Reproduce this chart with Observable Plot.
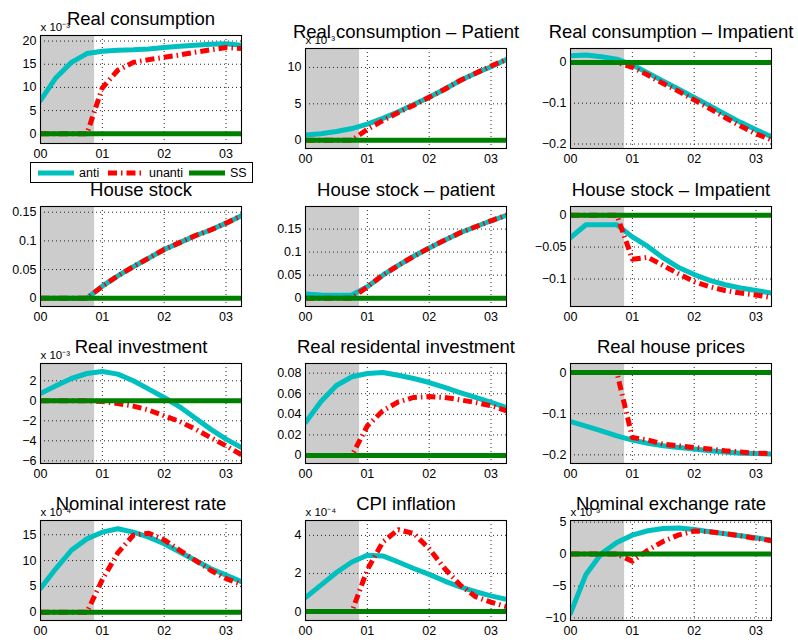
<!DOCTYPE html>
<html>
<head>
<meta charset="utf-8">
<script src="https://cdn.jsdelivr.net/npm/d3@7"></script>
<script src="https://cdn.jsdelivr.net/npm/@observablehq/plot@0.6"></script>
<style>
  body { margin: 0; background: #fff; font-family: "Liberation Sans", Arial, Helvetica, sans-serif; }
  #chart { position: relative; width: 798px; height: 642px; overflow: hidden; background: #fff; }
  #chart svg { position: absolute; overflow: visible; background: transparent; }
  #legend { position: absolute; left: 30px; top: 162px; width: 221px; height: 19px; border: 1px solid #000;
            background: #fff; font-size: 12.5px; z-index: 5; }
  #legend .item { position: absolute; top: 0; height: 19px; display: flex; align-items: center; gap: 4px; }
  #legend svg { position: static; }
</style>
</head>
<body>
<div id="chart"><div id="legend"></div></div>
<script>
// Quarterly horizon (years after the start), ticks on the year boundaries
const quarters = [0, 0.25, 0.5, 0.75, 1, 1.25, 1.5, 1.75, 2, 2.25, 2.5, 2.75, 3, 3.25];
const yearTicks = [0, 1, 2, 3];
const yearLabels = ["00", "01", "02", "03"];
const anticipationEnd = 0.875; // shaded news period

const seriesNames = ["anti", "unanti", "SS"];
const steadyState = [0, 0, 0, 0, 0, 0, 0, 0, 0, 0, 0, 0, 0, 0];

// Impulse responses: anticipated (anti) and unanticipated (unanti) shock
const consAnti      = [7.2, 12.1, 15.4, 17.3, 17.8, 18.0, 18.1, 18.3, 18.6, 18.9, 19.1, 19.3, 19.4, 19.1];
const consUnanti    = [0, 0, 0, 0, 9.9, 13.7, 15.4, 16.0, 16.5, 17.0, 17.6, 18.1, 18.6, 18.4];
const consPatAnti   = [0.7, 0.9, 1.2, 1.6, 2.2, 3.0, 3.9, 4.9, 5.9, 7.0, 8.2, 9.2, 10.1, 11.1];
const consPatUnanti = [0, 0, 0, 0, 1.5, 2.7, 3.8, 4.8, 5.9, 7.0, 8.2, 9.2, 10.2, 11.1];
const consImpAnti   = [0.016, 0.018, 0.014, 0.008, -0.006, -0.026, -0.046, -0.066, -0.086, -0.106, -0.127, -0.147, -0.165, -0.182];
const consImpUnanti = [0, 0, 0, 0, -0.012, -0.031, -0.052, -0.071, -0.092, -0.113, -0.135, -0.156, -0.175, -0.19];
const houseAnti     = [0, 0, 0, 0, 0.021, 0.039, 0.055, 0.070, 0.085, 0.097, 0.109, 0.119, 0.131, 0.144];
const houseUnanti   = [0, 0, 0, 0, 0.021, 0.039, 0.055, 0.070, 0.085, 0.097, 0.109, 0.119, 0.131, 0.144];
const housePatAnti  = [0.009, 0.007, 0.0065, 0.007, 0.025, 0.05, 0.071, 0.091, 0.109, 0.126, 0.142, 0.155, 0.168, 0.180];
const housePatUnanti= [0, 0, 0, 0, 0.025, 0.05, 0.071, 0.091, 0.109, 0.126, 0.142, 0.155, 0.168, 0.180];
const houseImpAnti  = [-0.035, -0.015, -0.015, -0.015, -0.034, -0.049, -0.067, -0.082, -0.093, -0.102, -0.109, -0.114, -0.118, -0.122];
const houseImpUnanti= [0, 0, 0, 0, -0.069, -0.066, -0.079, -0.092, -0.104, -0.112, -0.118, -0.122, -0.125, -0.129];
const invAnti       = [0.73, 1.5, 2.23, 2.73, 2.93, 2.67, 2.0, 1.17, 0.33, -0.6, -1.73, -2.83, -3.83, -4.67];
const invUnanti     = [0, 0, 0, 0, -0.07, -0.27, -0.53, -0.93, -1.5, -2.07, -2.83, -3.67, -4.5, -5.4];
const resInvAnti    = [0.032, 0.0525, 0.068, 0.0765, 0.0797, 0.0806, 0.078, 0.0748, 0.0709, 0.0661, 0.0612, 0.0564, 0.0515, 0.0466];
const resInvUnanti  = [0, 0, 0, 0, 0.0288, 0.0434, 0.0521, 0.0564, 0.0573, 0.0564, 0.0541, 0.0515, 0.0483, 0.0434];
const priceAnti     = [-0.119, -0.13, -0.142, -0.154, -0.164, -0.172, -0.178, -0.182, -0.186, -0.19, -0.193, -0.196, -0.197, -0.198];
const priceUnanti   = [0, 0, 0, 0, -0.158, -0.164, -0.174, -0.178, -0.182, -0.186, -0.19, -0.193, -0.196, -0.197];
const rateAnti      = [4.6, 8.46, 12.0, 14.2, 15.5, 16.15, 15.5, 14.55, 13.27, 11.67, 10.06, 8.46, 7.18, 5.9];
const rateUnanti    = [0, 0, 0, 0, 6.3, 11.5, 14.9, 15.3, 14.0, 12.0, 10.06, 8.14, 6.5, 5.4];
const cpiAnti       = [0.73, 1.39, 2.05, 2.6, 2.96, 2.92, 2.6, 2.26, 1.95, 1.6, 1.3, 1.04, 0.82, 0.64];
const cpiUnanti     = [0, 0, 0, 0, 2.2, 3.65, 4.3, 4.1, 3.3, 2.26, 1.39, 0.78, 0.49, 0.26];
const fxAnti        = [-9.27, -3.18, 0.1, 1.82, 2.97, 3.65, 4.0, 4.1, 3.85, 3.5, 3.2, 2.86, 2.55, 2.2];
const fxUnanti      = [0, 0, 0, 0, -1.1, 0.6, 2.0, 3.0, 3.6, 3.5, 3.2, 2.86, 2.45, 2.1];

const titles = [
  "Real consumption", "Real consumption – Patient", "Real consumption – Impatient",
  "House stock", "House stock – patient", "House stock – Impatient",
  "Real investment", "Real residental investment", "Real house prices",
  "Nominal interest rate", "CPI inflation", "Nominal exchange rate"
];
const exponents = ["⁻³", "⁻³", null, null, null, null, "⁻³", null, null, "⁻⁴", "⁻⁴", "⁻³"];
const yTicks = [
  [0, 5, 10, 15, 20], [0, 5, 10], [-0.2, -0.1, 0],
  [0, 0.05, 0.1, 0.15], [0, 0.05, 0.1, 0.15], [-0.1, -0.05, 0],
  [-6, -4, -2, 0, 2], [0, 0.02, 0.04, 0.06, 0.08], [-0.2, -0.1, 0],
  [0, 5, 10, 15], [0, 2, 4], [-10, -5, 0, 5]
];
const yLimits = [
  [-2.1, 21.2], [-1.14, 12.6], [-0.211, 0.034],
  [-0.0144, 0.16], [-0.018, 0.199], [-0.143, 0.0135],
  [-6.27, 3.73], [-0.0078, 0.0894], [-0.221, 0.022],
  [-1.6, 17.76], [-0.47, 4.78], [-10.4, 5.26]
];
const antiSeries = [consAnti, consPatAnti, consImpAnti, houseAnti, housePatAnti, houseImpAnti,
                    invAnti, resInvAnti, priceAnti, rateAnti, cpiAnti, fxAnti];
const unantiSeries = [consUnanti, consPatUnanti, consImpUnanti, houseUnanti, housePatUnanti, houseImpUnanti,
                      invUnanti, resInvUnanti, priceUnanti, rateUnanti, cpiUnanti, fxUnanti];

// Styling
const colors = {anti: "#00bfbf", unanti: "#ff0000", SS: "#008000"};
const widths = {anti: 5, unanti: 5, SS: 5};
const dashes = {anti: null, unanti: "9,4,1.5,4", SS: null};
const gridStyle = {stroke: "#000", strokeOpacity: 0.85, strokeDasharray: "1,3"};
// shortest decimal form with a true minus sign, e.g. 0.05, −0.1, 0
const tickText = d => String(+d.toPrecision(6)).replace("-", "\u2212");

// Layout of the 4 x 3 panel grid (frame positions in page pixels)
const colLeft = [40, 305, 570];
const rowTop = [48, 206, 363, 520];
const frameW = 201, frameH = 100;
const M = {l: 40, r: 12, t: 40, b: 24};

const chartEl = document.getElementById("chart");

titles.forEach((title, i) => {
  const col = i % 3, row = Math.floor(i / 3);
  // the first panel is taller to make room for the shared legend
  const top = i === 0 ? 35 : rowTop[row];
  const h = i === 0 ? 108 : frameH;
  const data = quarters.map((q, k) => ({
    q, anti: antiSeries[i][k], unanti: unantiSeries[i][k], SS: steadyState[k]
  }));
  const lineFor = (name) => Plot.line(data, {
    x: "q", y: name, stroke: colors[name], strokeWidth: widths[name],
    strokeDasharray: dashes[name], strokeLinecap: name === "unanti" ? "butt" : "round",
    strokeLinejoin: "round", clip: true
  });
  const marks = [
    Plot.rect([{x1: 0, x2: anticipationEnd}], {x1: "x1", x2: "x2", fill: "#cccccc"}),
    Plot.ruleX(yearTicks.slice(1), gridStyle),
    Plot.ruleY(yTicks[i], gridStyle),
    lineFor("anti"),
    lineFor("unanti"),
    lineFor("SS"),
    Plot.frame({stroke: "#000", strokeWidth: 1.1}),
    Plot.axisX(yearTicks, {tickSize: 0, tickPadding: 6, fontSize: 12.5, label: null,
                           tickFormat: d => yearLabels[yearTicks.indexOf(d)]}),
    Plot.axisY(yTicks[i], {tickSize: 0, tickPadding: 4, fontSize: 12.5, label: null,
                           tickFormat: tickText})
  ];
  if (exponents[i]) {
    marks.push(Plot.text(["x 10" + exponents[i]], {
      text: d => d, frameAnchor: "top-left", textAnchor: "start", lineAnchor: "bottom",
      dy: -5, fontSize: 11.5, fill: "#000"
    }));
  }
  marks.push(Plot.text([title], {
    text: d => d, frameAnchor: "top", lineAnchor: "bottom", dy: -11, fontSize: 18.5, fill: "#000"
  }));

  const svg = Plot.plot({
    width: frameW + M.l + M.r,
    height: h + M.t + M.b,
    marginLeft: M.l, marginRight: M.r, marginTop: M.t, marginBottom: M.b,
    x: {domain: [0, 3.25]},
    y: {domain: yLimits[i]},
    style: {fontFamily: "'Liberation Sans', Arial, Helvetica, sans-serif", fontSize: "12.5px",
            color: "#000", background: "transparent", overflow: "visible"},
    marks
  });
  svg.style.left = (colLeft[col] - M.l) + "px";
  svg.style.top = (top - M.t) + "px";
  chartEl.appendChild(svg);
});

// Shared legend
const legend = document.getElementById("legend");
const itemLeft = [6, 76, 157];
seriesNames.forEach((name, i) => {
  const item = document.createElement("div");
  item.className = "item";
  item.style.left = itemLeft[i] + "px";
  const ns = "http://www.w3.org/2000/svg";
  const sw = document.createElementNS(ns, "svg");
  sw.setAttribute("width", 38);
  sw.setAttribute("height", 10);
  const ln = document.createElementNS(ns, "line");
  ln.setAttribute("x1", 1); ln.setAttribute("x2", 37);
  ln.setAttribute("y1", 5); ln.setAttribute("y2", 5);
  ln.setAttribute("stroke", colors[name]);
  ln.setAttribute("stroke-width", widths[name]);
  if (dashes[name]) ln.setAttribute("stroke-dasharray", dashes[name]);
  sw.appendChild(ln);
  const label = document.createElement("span");
  label.textContent = name;
  item.appendChild(sw);
  item.appendChild(label);
  legend.appendChild(item);
});
</script>
</body>
</html>
